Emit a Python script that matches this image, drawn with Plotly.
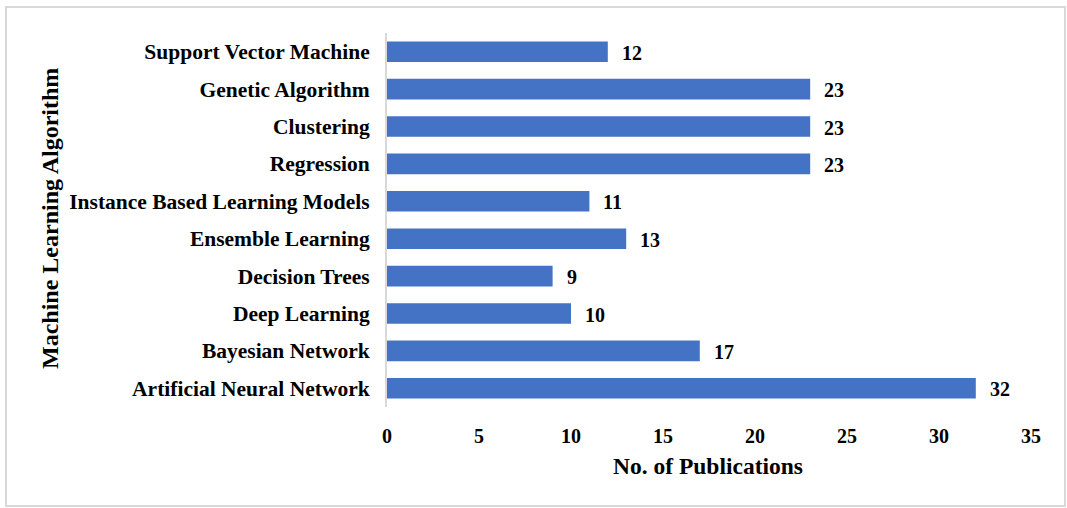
import plotly.graph_objects as go

categories = [
    "Artificial Neural Network",
    "Bayesian Network",
    "Deep Learning",
    "Decision Trees",
    "Ensemble Learning",
    "Instance Based Learning Models",
    "Regression",
    "Clustering",
    "Genetic Algorithm",
    "Support Vector Machine",
]
publications = [32, 17, 10, 9, 13, 11, 23, 23, 23, 12]
x_ticks = [0, 5, 10, 15, 20, 25, 30, 35]

W, H = 1067, 508
L, R, T, B = 387, 1031, 33, 407  # plot area in pixels

FONT = "Liberation Serif, Times New Roman, serif"
BLUE = "#4472C4"

fig = go.Figure()
fig.add_trace(go.Bar(
    y=categories, x=publications, orientation="h",
    marker=dict(color=BLUE, line=dict(width=0)),
    width=0.55,
    hoverinfo="x+y",
))

# data labels
for c, v in zip(categories, publications):
    fig.add_annotation(x=v, y=c, text=f"<b>{v}</b>", showarrow=False,
                       xanchor="left", xshift=12, yshift=-1,
                       font=dict(family=FONT, size=20, color="#000"))

def px_to_paper_x(px):
    return (px - L) / (R - L)

def px_to_paper_y(py):
    return (B - py) / (B - T)

# outer border
fig.add_shape(type="rect", xref="paper", yref="paper",
              x0=px_to_paper_x(6), x1=px_to_paper_x(1065),
              y0=px_to_paper_y(506), y1=px_to_paper_y(7),
              line=dict(color="#d9d9d9", width=2), fillcolor="rgba(0,0,0,0)", layer="below")

# axis titles
fig.add_annotation(xref="paper", yref="paper",
                   x=px_to_paper_x(708), y=px_to_paper_y(466),
                   text="<b>No. of Publications</b>", showarrow=False,
                   xanchor="center", yanchor="middle",
                   font=dict(family=FONT, size=23.5, color="#000"))
fig.add_annotation(xref="paper", yref="paper",
                   x=px_to_paper_x(50), y=px_to_paper_y(219),
                   text="<b>Machine Learning Algorithm</b>", showarrow=False,
                   textangle=-90, xanchor="center", yanchor="middle",
                   font=dict(family=FONT, size=24, color="#000"))

fig.update_layout(
    width=W, height=H,
    margin=dict(l=L, r=W - R, t=T, b=H - B, pad=0),
    paper_bgcolor="white", plot_bgcolor="white",
    showlegend=False,
    font=dict(family=FONT, size=20, color="#000"),
    bargap=0.45,
)
fig.update_xaxes(range=[0, 35], tickvals=x_ticks,
                 ticktext=[f"<b>{t}</b>" for t in x_ticks],
                 showgrid=False, zeroline=False, showline=False,
                 ticks="", ticklabelstandoff=15,
                 tickfont=dict(family=FONT, size=20, color="#000"))
fig.update_yaxes(categoryorder="array", categoryarray=categories,
                 tickvals=categories,
                 ticktext=[f"<b>{c}</b>" for c in categories],
                 showgrid=False, zeroline=False,
                 showline=True, linecolor="#d9d9d9", linewidth=2,
                 ticks="", ticklabelstandoff=11,
                 tickfont=dict(family=FONT, size=21.5, color="#000"))

fig.write_html("out.html", config={"displayModeBar": False},
               post_script="document.body.style.margin='0';document.body.style.overflow='hidden';")
